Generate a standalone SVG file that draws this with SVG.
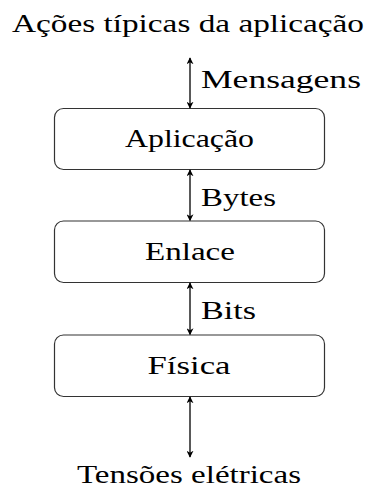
<svg xmlns="http://www.w3.org/2000/svg" width="370" height="492" viewBox="0 0 370 492">
<defs>
<marker id="ah" viewBox="0 0 10 10" refX="9" refY="5" markerWidth="7" markerHeight="7" markerUnits="userSpaceOnUse" orient="auto-start-reverse">
<path d="M0,0 L10,5 L0,10 L3,5 Z" fill="#000"/>
</marker>
</defs>
<style>
text{font-family:"Liberation Serif","Times New Roman",serif;font-size:26px;fill:#000}
.c{text-anchor:middle}
.box{fill:#fff;stroke:#333;stroke-width:1.2}
.conn line{stroke:#222;stroke-width:1.5;marker-start:url(#ah);marker-end:url(#ah)}
</style>
<rect width="370" height="492" fill="#fff"/>
<g id="top"><text class="c" x="188" y="32" textLength="352" lengthAdjust="spacingAndGlyphs">Ações típicas da aplicação</text></g>
<g id="aplicacao"><rect class="box" x="54.5" y="108.5" width="270" height="61" rx="9"/><text class="c" x="189.5" y="146.7" textLength="129" lengthAdjust="spacingAndGlyphs">Aplicação</text></g>
<g id="enlace"><rect class="box" x="54.5" y="221" width="270" height="61.5" rx="9"/><text class="c" x="190" y="259.8" textLength="90" lengthAdjust="spacingAndGlyphs">Enlace</text></g>
<g id="fisica"><rect class="box" x="54.5" y="335" width="270" height="61.5" rx="9"/><text class="c" x="189" y="373.8" textLength="83" lengthAdjust="spacingAndGlyphs">Física</text></g>
<g id="bottom"><text class="c" x="189" y="483" textLength="224" lengthAdjust="spacingAndGlyphs">Tensões elétricas</text></g>
<g class="conn">
<line x1="190" y1="58" x2="190" y2="108"/>
<line x1="190" y1="170" x2="190" y2="220.5"/>
<line x1="190" y1="283" x2="190" y2="334.5"/>
<line x1="190" y1="397" x2="190" y2="457"/>
</g>
<g id="labels">
<text x="201" y="88" textLength="160" lengthAdjust="spacingAndGlyphs">Mensagens</text>
<text x="201" y="205.5" textLength="75" lengthAdjust="spacingAndGlyphs">Bytes</text>
<text x="201" y="318.5" textLength="55" lengthAdjust="spacingAndGlyphs">Bits</text>
</g>
</svg>
